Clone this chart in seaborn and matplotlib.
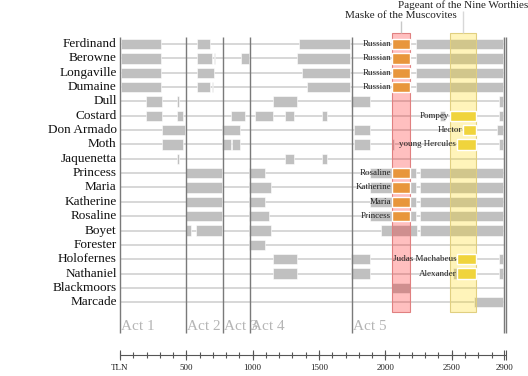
import pandas as pd
import matplotlib
matplotlib.use("Agg")
import matplotlib.pyplot as plt
import seaborn as sns

roles = ["Ferdinand", "Berowne", "Longaville", "Dumaine", "Dull", "Costard",
         "Don Armado", "Moth", "Jaquenetta", "Princess", "Maria", "Katherine",
         "Rosaline", "Boyet", "Forester", "Holofernes", "Nathaniel",
         "Blackmoors", "Marcade"]

# stage presence (TLN start, TLN end)
ferdinand = [(8, 307), (583, 679), (1352, 1737), (2232, 2890)]
berowne = [(8, 307), (583, 694), (705, 716), (910, 975), (1332, 1737), (2232, 2890)]
longaville = [(8, 307), (583, 709), (1375, 1737), (2232, 2890)]
dumaine = [(8, 307), (583, 679), (690, 698), (1410, 1737), (2232, 2890)]
dull = [(194, 317), (430, 447), (1151, 1335), (1742, 1885), (2853, 2890)]
costard = [(194, 317), (430, 473), (840, 940), (1018, 1151), (1244, 1312),
           (1525, 1563), (2415, 2450), (2853, 2890)]
armado = [(314, 490), (771, 905), (1766, 1885), (2840, 2890)]
moth = [(314, 473), (771, 834), (841, 905), (1766, 1885), (2050, 2068), (2853, 2890)]
jaquenetta = [(430, 447), (1244, 1312), (1525, 1563)]
princess = [(495, 771), (973, 1094), (1885, 2232), (2262, 2890)]
maria = [(495, 771), (973, 1139), (1885, 2232), (2262, 2890)]
katherine = [(495, 771), (973, 1094), (1885, 2232), (2262, 2890)]
rosaline = [(495, 771), (973, 1124), (1885, 2232), (2262, 2890)]
boyet = [(495, 533), (573, 771), (973, 1139), (1967, 2237), (2262, 2890)]
forester = [(973, 1094)]
holofernes = [(1151, 1335), (1742, 1885), (2853, 2890)]
nathaniel = [(1151, 1335), (1742, 1885), (2513, 2540), (2853, 2890)]
blackmoors = [(2050, 2183)]
marcade = [(2670, 2890)]

presence = [ferdinand, berowne, longaville, dumaine, dull, costard, armado, moth,
            jaquenetta, princess, maria, katherine, rosaline, boyet, forester,
            holofernes, nathaniel, blackmoors, marcade]

# Maske of the Muscovites: disguised roles
masque_span = (2050, 2183)
masque_roles = ["Ferdinand", "Berowne", "Longaville", "Dumaine",
                "Princess", "Maria", "Katherine", "Rosaline"]
masque_labels = ["Russian", "Russian", "Russian", "Russian",
                 "Rosaline", "Katherine", "Maria", "Princess"]

# Pageant of the Nine Worthies
pageant_span = (2487, 2680)
worthy_roles = ["Costard", "Don Armado", "Moth", "Holofernes", "Nathaniel"]
worthy_labels = ["Pompey", "Hector", "young Hercules", "Judas Machabeus", "Alexander"]
worthy_start = [2487, 2584, 2540, 2540, 2540]
worthy_end = [2680, 2680, 2680, 2680, 2680]

act_names = ["Act 1", "Act 2", "Act 3", "Act 4", "Act 5"]
act_starts = [0, 495, 775, 980, 1748]
play_end = 2900

major_ticks = [0, 500, 1000, 1500, 2000, 2500]
tick_labels = ["TLN", "500", "1000", "1500", "2000", "2500", "2900"]
label_pos = [0, 500, 1000, 1500, 2000, 2500, 2900]

rows = []
for role, spans in zip(roles, presence):
    for s, e in spans:
        rows.append({"role": role, "start": s, "end": e})
df = pd.DataFrame(rows)
df["y"] = pd.Categorical(df["role"], categories=roles).codes

sns.set_theme(style="white")
plt.rcParams["font.family"] = ["Liberation Serif", "DejaVu Serif"]

fig = plt.figure(figsize=(5.28, 3.76), dpi=100)
ax = fig.add_axes([0, 0, 1, 1])
ax.set_xlim(-904.5, 3075)
ax.set_ylim(23.14, -3.066)
ax.axis("off")

ypos = dict(zip(roles, range(len(roles))))

# row guide lines
ax.hlines(range(len(roles)), 0, play_end, color="#cdcdcd", lw=1.1, zorder=1)

# gray presence bars
ax.barh(df["y"], df["end"] - df["start"], left=df["start"], height=0.72,
        color="#c0c0c0", edgecolor="white", linewidth=0.4, zorder=2)

# act division lines and labels
ax.vlines(act_starts, -0.49, 20.14, color="#7a7a7a", lw=1, zorder=3)
ax.vlines([play_end - 4, play_end + 9], -0.49, 20.14, color="#7a7a7a", lw=1, zorder=3)
for name, s in zip(act_names, act_starts):
    ax.text(s + 10, 19.72, name, color="#b5b5b5", fontsize=11, va="center", ha="left", zorder=3)

# event boxes
ax.bar((masque_span[0] + masque_span[1]) / 2, 18.70 + 0.745, width=masque_span[1] - masque_span[0],
       bottom=-0.745, color=(1, 0, 0, 0.25), edgecolor="#e08080", lw=0.8, zorder=3)
ax.bar((pageant_span[0] + pageant_span[1]) / 2, 18.70 + 0.745, width=pageant_span[1] - pageant_span[0],
       bottom=-0.745, color=(1, 0.85, 0, 0.27), edgecolor="#e0cf80", lw=0.8, zorder=3)

mx = (masque_span[0] + masque_span[1]) / 2
px_ = (pageant_span[0] + pageant_span[1]) / 2
ax.vlines(mx, -1.6, -0.745, color="#c8c8c8", lw=1, zorder=3)
ax.vlines(px_, -2.3, -0.745, color="#d8d8d8", lw=1, zorder=3)
ax.text(mx, -2.02, "Maske of the Muscovites", fontsize=8, ha="center", va="center", color="#222222")
ax.text(px_, -2.72, "Pageant of the Nine Worthies", fontsize=8, ha="center", va="center", color="#222222")

# disguised roles
my = [ypos[r] for r in masque_roles]
ax.barh(my, masque_span[1] - masque_span[0], left=masque_span[0], height=0.72,
        color="#e8963c", zorder=4)
for y, lab in zip(my, masque_labels):
    ax.text(masque_span[0] - 5, y, lab, fontsize=6.5, ha="right", va="center", color="#222222", zorder=5)

wy = [ypos[r] for r in worthy_roles]
ax.barh(wy, [e - s for s, e in zip(worthy_start, worthy_end)], left=worthy_start, height=0.72,
        color="#f0d43c", zorder=4)
for y, s, lab in zip(wy, worthy_start, worthy_labels):
    ax.text(s - 5, y, lab, fontsize=6.5, ha="right", va="center", color="#222222", zorder=5)

# character names
for role, y in ypos.items():
    ax.text(-25, y, role, fontsize=9.5, ha="right", va="center", color="#111111")

# TLN axis
ax.hlines(21.67, 0, play_end + 9, color="#555555", lw=0.8)
ax.vlines(range(0, play_end, 100), 21.48, 21.86, color="#555555", lw=0.8)
ax.vlines(major_ticks, 21.32, 22.02, color="#555555", lw=0.8)
ax.vlines([play_end - 4, play_end + 9], 21.32, 22.02, color="#555555", lw=0.8)
for p, lab in zip(label_pos, tick_labels):
    ax.text(p, 22.58, lab, fontsize=6.5, ha="center", va="center", color="#222222")

fig.savefig("out.png", dpi=100)
